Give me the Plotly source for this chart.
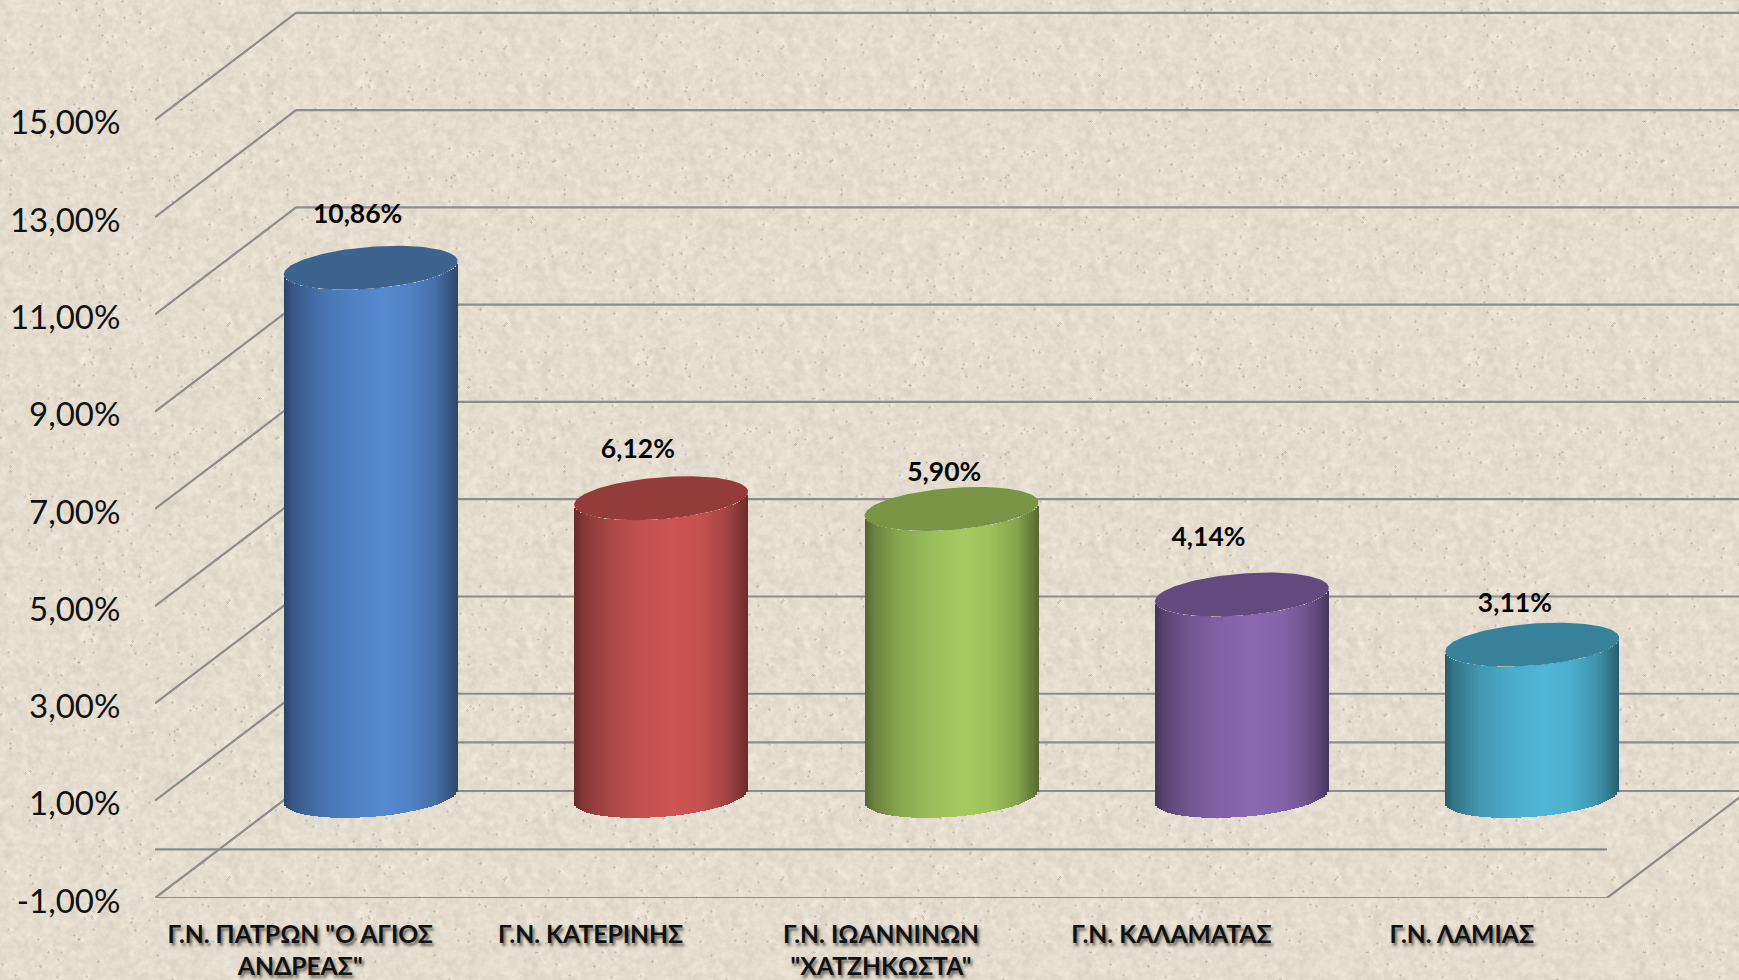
import base64, struct, zlib
import numpy as np
import plotly.graph_objects as go

# ---------- data ----------
categories = ['Γ.Ν. ΠΑΤΡΩΝ "Ο ΑΓΙΟΣ<br>ΑΝΔΡΕΑΣ"', 'Γ.Ν. ΚΑΤΕΡΙΝΗΣ',
              'Γ.Ν. ΙΩΑΝΝΙΝΩΝ<br>"ΧΑΤΖΗΚΩΣΤΑ"', 'Γ.Ν. ΚΑΛΑΜΑΤΑΣ', 'Γ.Ν. ΛΑΜΙΑΣ']
values = [10.86, 6.12, 5.90, 4.14, 3.11]
y_ticks = [-1, 1, 3, 5, 7, 9, 11, 13, 15]
y_tick_labels = ['-1,00%', '1,00%', '3,00%', '5,00%', '7,00%', '9,00%', '11,00%', '13,00%', '15,00%']

# ---------- style ----------
side_colors = ['#5689CF', '#CE5654', '#A6CA60', '#8A69B1', '#50B7D6']
top_colors = ['#3D638F', '#933C3A', '#7A9446', '#624A7F', '#38819B']
label_dx = [-0.045, -0.08, -0.025, -0.115, -0.06]
label_dy = [1.06, 0.96, 0.72, 1.13, 0.80]
FONT = 'Lato, "Open Sans", sans-serif'
GRID = '#8C8C8C'

W, H = 1739, 980
L, B = 155, 82
PX_X = 290.4          # pixels per category
PX_Y = 48.63          # pixels per value unit
DEPTH_X = 141 / PX_X  # wall depth in category units
DEPTH_Y = 107 / PX_Y  # wall depth in value units
x0 = -0.5
x_max = x0 + (W - L) / PX_X
y_min = -1
y_max = y_min + (H - B) / PX_Y
front_right = x0 + len(categories)
A, SK, C = 83 / PX_X, 26 / PX_X, 22 / PX_Y   # sheared ellipse of a cylinder cap
R = float(np.hypot(A, SK))
PHI = float(np.arctan2(SK, A))


def hex_rgb(h):
    return np.array([int(h[i:i + 2], 16) for i in (1, 3, 5)], float)


def shade(color, u):
    m = np.interp(u, [0, .05, .2, .4, .57, .72, .87, .96, 1],
                  [.50, .64, .83, .95, 1, .96, .81, .62, .52])
    c = hex_rgb(color) * m
    return 'rgb(%d,%d,%d)' % tuple(c)


# ---------- paper texture ----------
def blur(a, passes):
    for _ in range(passes):
        a = (a + np.roll(a, 1, 0) + np.roll(a, -1, 0) + np.roll(a, 1, 1) + np.roll(a, -1, 1)) / 5
    return a


def paper_texture():
    tw, th = 277, 277
    jj, ii = np.meshgrid(np.arange(th), np.arange(tw), indexing='ij')
    hashed = np.sin(ii * 12.9898 + jj * 78.233) * 43758.5453
    n = hashed - np.floor(hashed)
    fine = blur(n, 2) - 0.5
    coarse = blur(n, 14) - 0.5
    coarse = coarse / max(coarse.std(), 1e-6) * 0.05
    seeds = (n > 0.998).astype(float)
    specks = blur(seeds, 1) * 2.2
    halo = blur(np.roll(seeds, 3, 1), 3) * 3.5
    lum = fine * 22 + coarse * 40 - specks * 65 + halo * 20
    lum = np.round(lum / 2) * 2
    reps = (H // th + 1, W // tw + 1)
    lum = np.tile(lum, reps)[:H, :W]
    base = np.array([227.0, 220.0, 207.0])
    img = np.clip(base[None, None, :] + lum[:, :, None], 0, 255).astype(np.uint8)
    raw = b''.join(b'\x00' + img[r].tobytes() for r in range(H))

    def chunk(t, d):
        return struct.pack('>I', len(d)) + t + d + struct.pack('>I', zlib.crc32(t + d) & 0xffffffff)
    png = (b'\x89PNG\r\n\x1a\n' + chunk(b'IHDR', struct.pack('>IIBBBBB', W, H, 8, 2, 0, 0, 0))
           + chunk(b'IDAT', zlib.compress(raw, 9)) + chunk(b'IEND', b''))
    return 'data:image/png;base64,' + base64.b64encode(png).decode()


fig = go.Figure()

# ---------- cylinders ----------
base_level = DEPTH_Y / 2
step = 2 / PX_X
for i, (val, side, top) in enumerate(zip(values, side_colors, top_colors)):
    cx = i + DEPTH_X / 2
    off = np.arange(-R + step / 2, R, step)
    t_low = PHI - np.arccos(np.clip(off / R, -1, 1))
    lower = C * np.sin(t_low)
    fig.add_trace(go.Bar(
        x=cx + off, y=[val] * len(off), base=base_level + lower,
        width=[step * 1.02] * len(off),
        marker=dict(color=[shade(side, (o + R) / (2 * R)) for o in off], line=dict(width=0)),
        showlegend=False, hoverinfo='skip'))
    t = np.linspace(0, 2 * np.pi, 160)
    fig.add_trace(go.Scatter(
        x=cx + A * np.cos(t) + SK * np.sin(t),
        y=val + base_level + C * np.sin(t),
        mode='lines', fill='toself', fillcolor=top, line=dict(width=0, color=top),
        showlegend=False, hoverinfo='skip'))

# ---------- value labels ----------
fig.add_trace(go.Scatter(
    x=[i + DEPTH_X / 2 + dx for i, dx in enumerate(label_dx)],
    y=[v + base_level + dy for v, dy in zip(values, label_dy)],
    mode='text', text=[f'{v:.2f}%'.replace('.', ',') for v in values],
    textposition='middle center',
    textfont=dict(family=FONT, size=26.5, color='#050505', weight='bold'),
    showlegend=False, hoverinfo='skip'))

# ---------- walls and floor ----------
shapes = []


def seg(xa, ya, xb, yb):
    shapes.append(dict(type='line', xref='x', yref='y', x0=xa, y0=ya, x1=xb, y1=yb,
                       layer='below', line=dict(color=GRID, width=2.2)))


for v in y_ticks:
    seg(x0, v, x0 + DEPTH_X, v + DEPTH_Y)
    seg(x0 + DEPTH_X, v + DEPTH_Y, front_right + DEPTH_X, v + DEPTH_Y)
seg(x0 + DEPTH_X, DEPTH_Y, front_right + DEPTH_X, DEPTH_Y)
seg(x0, -1, front_right, -1)
seg(x0, 0, front_right, 0)
seg(front_right, -1, front_right + DEPTH_X, -1 + DEPTH_Y)

pw, ph = W - L, H - B
fig.update_layout(
    width=W, height=H, margin=dict(l=L, r=0, t=0, b=B, pad=0),
    barmode='overlay', bargap=0, showlegend=False,
    paper_bgcolor='#E2DBCD', plot_bgcolor='rgba(0,0,0,0)',
    shapes=shapes,
    images=[dict(source=paper_texture(), xref='paper', yref='paper',
                 x=-L / pw, y=1, sizex=W / pw, sizey=H / ph,
                 xanchor='left', yanchor='top', sizing='stretch', layer='below')],
    xaxis=dict(range=[x0, x_max], tickmode='array', tickvals=list(range(len(categories))),
               ticktext=categories, tickangle=0, showgrid=False, zeroline=False, showline=False,
               ticks='outside', ticklen=14, tickcolor='rgba(0,0,0,0)',
               tickfont=dict(family=FONT, size=24.7, color='#111111', weight='bold',
                             shadow='2px 3px 3px rgba(0,0,0,0.55)')),
    yaxis=dict(range=[y_min, y_max], tickmode='array', tickvals=y_ticks, ticktext=y_tick_labels,
               showgrid=False, zeroline=False, showline=False,
               ticks='outside', ticklen=27, tickcolor='rgba(0,0,0,0)', ticklabelshift=3,
               tickfont=dict(family=FONT, size=33, color='#111111')),
)

fig.write_html('out.html', config=dict(displayModeBar=False),
               post_script="document.body.style.margin='0';document.documentElement.style.overflow='hidden';")
